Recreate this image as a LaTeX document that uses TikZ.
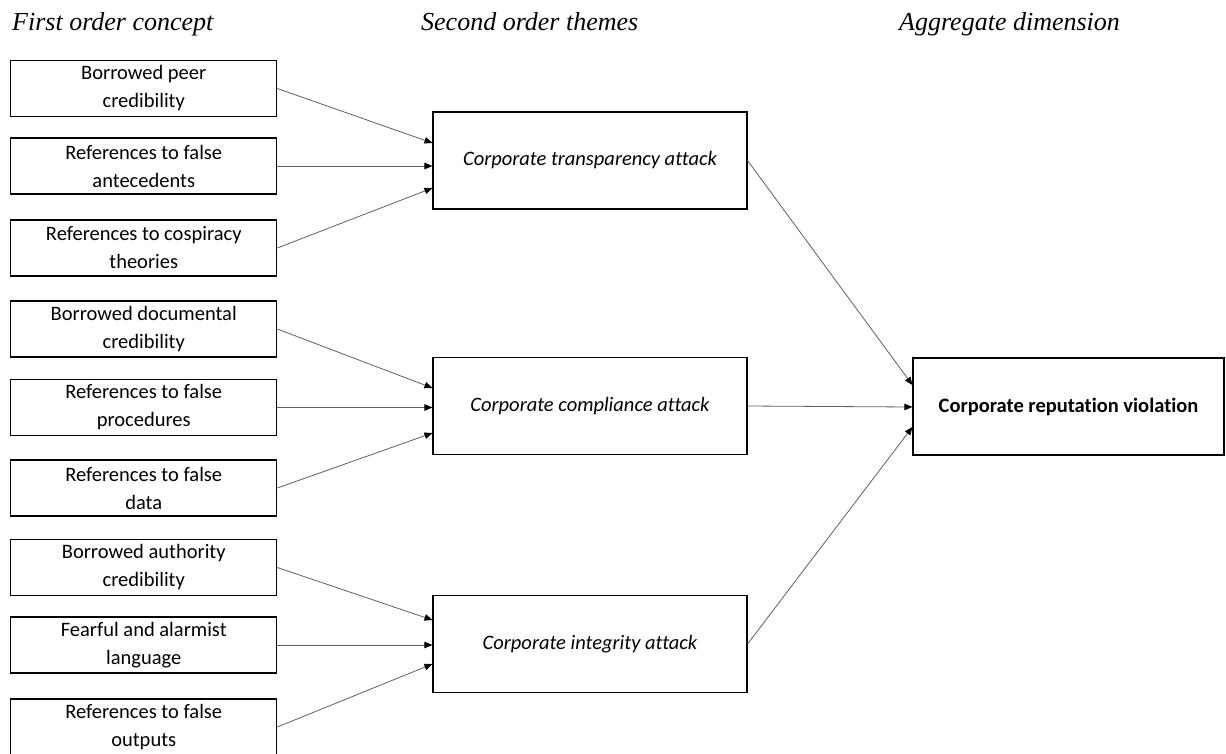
\documentclass[tikz,border=0pt]{standalone}
\usepackage{fontspec}
\setmainfont{Liberation Serif}
\setsansfont{Carlito}[Ligatures=NoCommon]
\usepackage{tikz}
\usetikzlibrary{arrows.meta}

\begin{document}
\begin{tikzpicture}[x=1pt, y=-1pt,
  concept/.style={draw, line width=1.1pt, minimum width=266pt, minimum height=56pt, inner sep=0pt, align=center, font=\fontsize{20.5}{28}\sffamily},
  theme/.style={draw, line width=1.1pt, minimum width=314pt, minimum height=97pt, font=\fontsize{20.5}{28}\sffamily\itshape},
  dimension/.style={draw, line width=1.1pt, minimum width=311pt, minimum height=97pt, font=\fontsize{20.5}{28}\sffamily\bfseries},
  header/.style={anchor=base west, inner sep=0pt, font=\fontsize{26}{30}\selectfont\itshape},
  link/.style={-{Triangle[length=8pt, width=6.5pt, color=black]}, gray!75!black, line width=0.8pt},
]
  \useasboundingbox (0,0) rectangle (1226,753);

  % Column headers
  \node[header] (h1) at (12,30) {First order concept};
  \node[header] (h2) at (421,30) {Second order themes};
  \node[header] (h3) at (899,30) {Aggregate dimension};

  % First order concepts
  \node[concept] (c1) at (143.75,88.5) {Borrowed peer\\credibility};
  \node[concept] (c2) at (143.75,166) {References to false\\antecedents};
  \node[concept] (c3) at (143.75,248) {References to cospiracy\\theories};
  \node[concept] (c4) at (143.75,329) {Borrowed documental\\credibility};
  \node[concept] (c5) at (143.75,407.5) {References to false\\procedures};
  \node[concept] (c6) at (143.75,488) {References to false\\data};
  \node[concept] (c7) at (143.75,567.5) {Borrowed authority\\credibility};
  \node[concept] (c8) at (143.75,645) {Fearful and alarmist\\language};
  \node[concept] (c9) at (143.75,727) {References to false\\outputs};

  % Second order themes
  \node[theme] (t1) at (590,160.5) {Corporate transparency attack};
  \node[theme] (t2) at (590,406) {Corporate compliance attack};
  \node[theme] (t3) at (590,644) {Corporate integrity attack};

  % Aggregate dimension
  \node[dimension] (agg) at (1068.5,406.5) {Corporate reputation violation};

  % Concepts to themes
  \draw[link] (c1.east) -- ([yshift=17.5pt]t1.west);
  \draw[link] (c2.east) -- ([yshift=-5.5pt]t1.west);
  \draw[link] (c3.east) -- ([yshift=-27.5pt]t1.west);
  \draw[link] (c4.east) -- ([yshift=18pt]t2.west);
  \draw[link] (c5.east) -- ([yshift=-1.5pt]t2.west);
  \draw[link] (c6.east) -- ([yshift=-27pt]t2.west);
  \draw[link] (c7.east) -- ([yshift=24pt]t3.west);
  \draw[link] (c8.east) -- ([yshift=-1pt]t3.west);
  \draw[link] (c9.east) -- ([yshift=-20pt]t3.west);

  % Themes to dimension
  \draw[link] (t1.east) -- ([yshift=21.5pt]agg.west);
  \draw[link] (t2.east) -- ([yshift=-0.5pt]agg.west);
  \draw[link] (t3.east) -- ([yshift=-20.5pt]agg.west);

\end{tikzpicture}
\end{document}
